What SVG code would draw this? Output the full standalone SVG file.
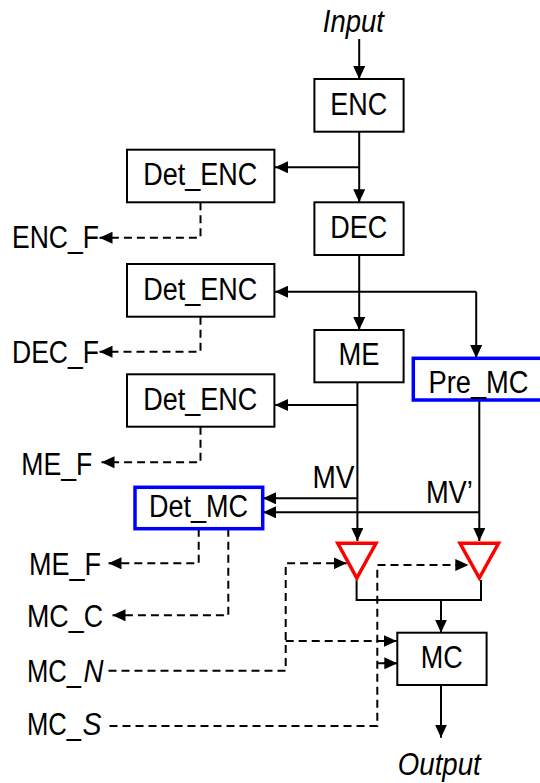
<svg xmlns="http://www.w3.org/2000/svg" width="540" height="783" viewBox="0 0 540 783">
<style>
.bx{fill:#fff;stroke:#000;stroke-width:2}
.bl{fill:#fff;stroke:#0000ff;stroke-width:3.5}
.tri{fill:none;stroke:#ff0000;stroke-width:3.5;stroke-linejoin:miter}
.t{font-family:"Liberation Sans",Arial,sans-serif;font-size:31px;fill:#000;text-anchor:middle}
.s{text-anchor:start}
.i{font-style:italic}
.ln{fill:none;stroke:#000;stroke-width:2}
.ds{fill:none;stroke:#000;stroke-width:2;stroke-dasharray:8 5}
</style>
<defs>
<marker id="ah" markerUnits="userSpaceOnUse" markerWidth="13" markerHeight="12" refX="13" refY="6" orient="auto">
<path d="M0,0 L13,6 L0,12 z" fill="#000"/>
</marker>
</defs>
<rect width="540" height="783" fill="#fff"/>
<g id="connectors">
<path class="ln" d="M359.2,39 V79" marker-end="url(#ah)"/>
<path class="ln" d="M359.2,131.7 V202.3" marker-end="url(#ah)"/>
<path class="ln" d="M359.2,167.3 H275" marker-end="url(#ah)"/>
<path class="ln" d="M359.2,255 V330" marker-end="url(#ah)"/>
<path class="ln" d="M476.2,291.7 H275" marker-end="url(#ah)"/>
<path class="ln" d="M476.2,291.7 V358" marker-end="url(#ah)"/>
<path class="ln" d="M357.4,382.3 V541" marker-end="url(#ah)"/>
<path class="ln" d="M357.4,405 H275" marker-end="url(#ah)"/>
<path class="ln" d="M357.4,498.3 H263" marker-end="url(#ah)"/>
<path class="ln" d="M479.3,400 V541" marker-end="url(#ah)"/>
<path class="ln" d="M479.3,512.3 H263" marker-end="url(#ah)"/>
<path class="ln" d="M356.6,580 V600 H481 V580"/>
<path class="ln" d="M441,600 V632.7" marker-end="url(#ah)"/>
<path class="ln" d="M441,685 V737.7" marker-end="url(#ah)"/>
<path class="ds" d="M200.5,202.3 V237.7 H99.5" marker-end="url(#ah)"/>
<path class="ds" d="M200.5,316.7 V351.7 H99.5" marker-end="url(#ah)"/>
<path class="ds" d="M200.5,426.7 V462.3 H101.5" marker-end="url(#ah)"/>
<path class="ds" d="M198.7,528.7 V563.3 H108.5" marker-end="url(#ah)"/>
<path class="ds" d="M228.3,528.7 V615.3 H112.5" marker-end="url(#ah)"/>
<path class="ds" d="M108.5,670.7 H285.7 V563.3 H346.7" marker-end="url(#ah)"/>
<path class="ds" d="M285.7,641 H396.7" marker-end="url(#ah)"/>
<path class="ds" d="M109.5,726 H377.3 V565 H468.3" marker-end="url(#ah)"/>
<path class="ds" d="M377.3,663.3 H397.3" marker-end="url(#ah)"/>
</g>
<g id="input"><text class="t i" x="353.3" y="31.7" textLength="61" lengthAdjust="spacingAndGlyphs">Input</text></g>
<g id="enc"><rect class="bx" x="314.4" y="79" width="89.2" height="52.7"/><text class="t" x="358.8" y="115" textLength="57" lengthAdjust="spacingAndGlyphs">ENC</text></g>
<g id="det_enc1"><rect class="bx" x="127" y="149.7" width="147.4" height="52.6"/><text class="t" x="200.3" y="185" textLength="114" lengthAdjust="spacingAndGlyphs">Det_ENC</text></g>
<g id="enc_f"><text class="t" x="55.5" y="248.3" textLength="87" lengthAdjust="spacingAndGlyphs">ENC_F</text></g>
<g id="dec"><rect class="bx" x="314.4" y="202.3" width="89.2" height="52.7"/><text class="t" x="358.8" y="238.3" textLength="57" lengthAdjust="spacingAndGlyphs">DEC</text></g>
<g id="det_enc2"><rect class="bx" x="127" y="264" width="147.4" height="52.7"/><text class="t" x="200.3" y="300" textLength="114" lengthAdjust="spacingAndGlyphs">Det_ENC</text></g>
<g id="dec_f"><text class="t" x="55.5" y="363.3" textLength="87" lengthAdjust="spacingAndGlyphs">DEC_F</text></g>
<g id="me"><rect class="bx" x="314.4" y="330" width="89.2" height="52.3"/><text class="t" x="359" y="365" textLength="41" lengthAdjust="spacingAndGlyphs">ME</text></g>
<g id="pre_mc"><rect class="bl" x="413.3" y="358.3" width="130" height="41.7"/><text class="t" x="478.5" y="393.3" textLength="100" lengthAdjust="spacingAndGlyphs">Pre_MC</text></g>
<g id="det_enc3"><rect class="bx" x="127" y="374.3" width="147.4" height="52.4"/><text class="t" x="200.3" y="410" textLength="114" lengthAdjust="spacingAndGlyphs">Det_ENC</text></g>
<g id="me_f1"><text class="t" x="56.8" y="475" textLength="71" lengthAdjust="spacingAndGlyphs">ME_F</text></g>
<g id="mv"><text class="t" x="333.5" y="488.3" textLength="42" lengthAdjust="spacingAndGlyphs">MV</text></g>
<g id="mv2"><text class="t" x="449.4" y="502.7" textLength="47" lengthAdjust="spacingAndGlyphs">MV’</text></g>
<g id="det_mc"><rect class="bl" x="135" y="487.3" width="127.7" height="41.4"/><text class="t" x="198.5" y="516.7" textLength="99" lengthAdjust="spacingAndGlyphs">Det_MC</text></g>
<g id="me_f2"><text class="t" x="65" y="575" textLength="72" lengthAdjust="spacingAndGlyphs">ME_F</text></g>
<g id="mc_c"><text class="t" x="65" y="626.7" textLength="76" lengthAdjust="spacingAndGlyphs">MC_C</text></g>
<g id="mc_n"><text class="t s" x="27" y="681.7" textLength="54" lengthAdjust="spacingAndGlyphs">MC_</text><text class="t s i" x="83.5" y="681.7" textLength="20" lengthAdjust="spacingAndGlyphs">N</text></g>
<g id="mc_s"><text class="t s" x="27" y="735" textLength="54" lengthAdjust="spacingAndGlyphs">MC_</text><text class="t s i" x="82.5" y="735" textLength="19" lengthAdjust="spacingAndGlyphs">S</text></g>
<g id="tri1"><path class="tri" d="M337.8,543.3 H376 L356.8,578 z"/></g>
<g id="tri2"><path class="tri" d="M460,543.3 H498.5 L479.3,578 z"/></g>
<g id="mc"><rect class="bx" x="397.3" y="632.7" width="89.3" height="52.3"/><text class="t" x="441.8" y="668" textLength="42" lengthAdjust="spacingAndGlyphs">MC</text></g>
<g id="output"><text class="t i" x="439.3" y="775" textLength="83" lengthAdjust="spacingAndGlyphs">Output</text></g>
</svg>
